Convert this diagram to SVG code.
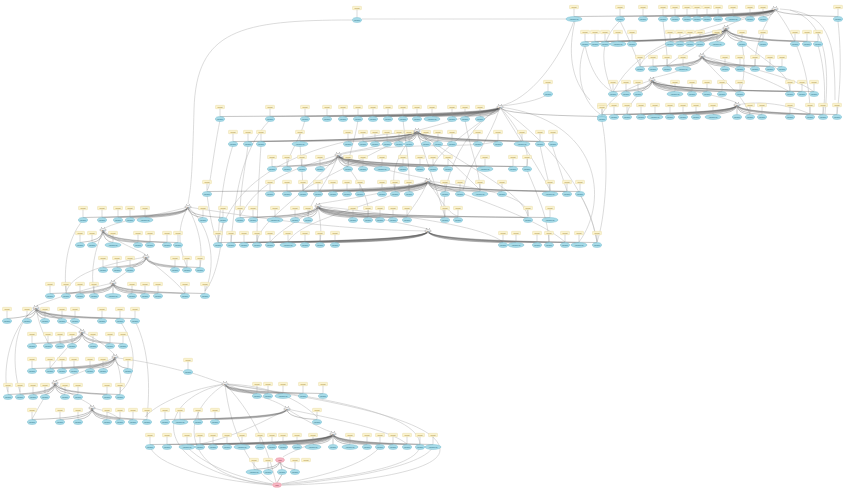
<svg xmlns="http://www.w3.org/2000/svg" xmlns:xlink="http://www.w3.org/1999/xlink" width="843" height="488" viewBox="0 0 843 488">
<style>
.e{fill:none;stroke:#555;stroke-width:.45;stroke-opacity:.75}
.l{fill:none;stroke:#b8b8b8;stroke-width:.5}
.k{fill:#fbf3cf;stroke:#e2d08c;stroke-width:.3}
.kt{font-family:"Liberation Sans",Arial,sans-serif;font-size:1.9px;fill:#977519;text-anchor:middle}
.v{fill:#a7dbe8;stroke:#5daec5;stroke-width:.35}
.vt{font-family:"Liberation Sans",Arial,sans-serif;font-size:1.8px;fill:#23667c;text-anchor:middle}
.s{stroke:#9a9a9a;stroke-width:.35}
.pk{fill:#f6b6c3;stroke:#df7489;stroke-width:.35}
.pt{font-family:"Liberation Sans",Arial,sans-serif;font-size:1.8px;fill:#8a2a3c;text-anchor:middle}
.h{fill:#f6f6f6;stroke:#666;stroke-width:.35}
.ht{font-family:"Liberation Sans",Arial,sans-serif;font-size:1.6px;fill:#333;text-anchor:middle}
.d{fill:#555}
</style>
<defs>
<!-- constant label feeding a variable op -->
<g id="p"><rect class="k" x="-4.5" y="-1.7" width="9" height="3.4" rx=".6"/><text class="kt" y=".7">Const</text><line class="s" x1="0" y1="1.7" x2="0" y2="9.5"/><ellipse class="v" cy="12" rx="4.6" ry="2.5"/><text class="vt" y="12.65">Variable</text></g>
<g id="w"><rect class="k" x="-4.5" y="-1.7" width="9" height="3.4" rx=".6"/><text class="kt" y=".7">Const</text><line class="s" x1="0" y1="1.7" x2="0" y2="9.5"/><ellipse class="v" cy="12" rx="8" ry="2.5"/><text class="vt" y="12.65">VariableV2</text></g>
<g id="b"><ellipse class="v" cy="12" rx="4.6" ry="2.5"/><text class="vt" y="12.65">Variable</text></g>
<g id="bw"><ellipse class="v" cy="12" rx="8" ry="2.5"/><text class="vt" y="12.65">VariableV2</text></g>
<g id="k"><rect class="k" x="-4.5" y="-1.7" width="9" height="3.4" rx=".6"/><text class="kt" y=".7">Const</text></g>
<g id="hub"><ellipse class="h" rx="3.2" ry="1.4"/><text class="ht" y=".55">add</text><circle class="d" cx="-1.4" cy="-2.7" r=".35"/><circle class="d" cx="1.4" cy="-2.7" r=".35"/><circle class="d" cx="0" cy="2.6" r=".3"/></g>
<g id="pkh"><ellipse class="pk" rx="4.4" ry="2.3"/><text class="pt" y=".6">loss</text></g>
</defs>

<!-- long-range links between the groups -->
<g id="links">
<path class="l" d="M352,20C240,20 196,30 194,110S190,190 188,204M362,19C450,19 520,19 566,19M775,9C760,15 735,20 726,27M726,28C720,40 708,48 702,54M702,56C690,70 665,75 652,78M652,80C680,90 720,95 737,103M575,21C568,50 570,80 590,100M585,45C575,70 580,100 600,114M620,21C600,40 600,60 612,92M780,9C830,12 835,40 835,100M790,10C825,20 830,60 825,114M838,21C842,60 840,90 837,114M726,28C760,60 790,70 790,92M702,56C720,80 740,90 750,114M652,80C640,95 630,100 627,114M775,9C800,40 810,80 810,114M726,28C680,40 645,50 640,66M775,9C700,30 640,40 613,92M702,56C760,70 800,80 814,92M726,28C700,45 680,55 667,66M702,56C740,70 770,80 790,92M652,80C620,90 610,100 602,114M737,105C760,100 790,105 810,114M775,9C760,30 755,50 755,66M620,21C630,40 635,55 640,66M663,21C665,40 668,55 667,66M742,44C745,60 745,80 740,92M585,45C590,70 600,85 613,92M818,45C825,70 826,95 823,114"/>
<path class="l" d="M574,21C560,60 530,100 500,106M548,94C540,100 520,104 502,106M417,131C380,150 350,150 340,154M338,155C380,170 410,175 428,179M428,181C380,195 340,200 318,204M318,206C360,215 410,225 428,229M500,107C470,115 440,125 419,130M500,107C560,150 590,200 597,242M417,131C300,140 230,180 218,242M500,107C450,140 440,200 445,217M417,131C470,170 520,190 528,216M338,155C300,200 260,220 257,242M428,181C480,200 540,220 565,242M428,181C360,210 300,220 288,242M500,107C600,120 610,200 579,242M220,120C212,160 210,190 207,190M270,120C240,150 235,200 231,242M602,121C610,160 605,220 597,242M338,155C400,140 470,150 498,141M417,131C450,160 470,180 480,190M500,107C520,140 540,170 550,190"/>
<path class="l" d="M500,107C490,140 470,160 463,190M500,107C520,130 530,150 527,166M500,107C470,130 440,150 433,166M417,131C400,150 390,170 395,190M417,131C360,160 320,180 303,190M417,131C430,170 440,200 445,217M338,155C330,180 310,200 308,216M338,155C360,180 370,200 368,216M338,155C290,170 260,180 240,216M428,181C440,200 450,215 458,216M428,181C420,200 410,210 407,216M428,181C500,190 530,200 528,216M318,206C300,220 280,230 270,242M318,206C320,220 322,230 320,242M318,206C400,215 480,225 503,242M305,120C300,140 290,150 287,166M358,120C355,140 350,150 348,166M403,120C405,140 410,160 409,191M465,120C470,150 480,170 480,191M248,145C245,170 240,190 240,216M300,145C302,170 303,185 303,191M552,145C560,170 565,185 567,191M540,145C545,170 550,185 550,191M233,145C225,170 220,200 218,242M261,145C258,190 257,220 257,242M527,170C540,200 548,220 549,242M580,195C590,210 595,230 597,242M207,195C210,215 212,230 218,242"/>
<path class="l" d="M188,207C160,215 120,220 105,228M103,230C120,245 140,250 146,255M146,257C130,270 118,278 113,281M113,283C80,290 50,300 36,306M36,308C60,320 75,325 82,330M82,332C100,340 110,350 115,355M115,357C90,370 65,378 55,381M55,383C70,395 85,400 92,406M188,207C215,230 215,270 205,291M83,220C66,240 64,270 66,291M223,220C222,250 215,280 205,291M36,308C5,330 3,380 8,392M135,321C150,350 150,390 147,417M36,308C15,320 10,360 20,392M120,321C140,350 135,380 120,392M188,207C240,215 330,230 428,231M118,358C150,362 170,368 183,371M192,373C205,377 215,381 222,383M188,207C175,230 180,250 187,267M188,207C200,230 203,250 200,267M103,230C95,250 90,270 94,293M146,257C160,270 175,280 185,293M146,257C100,265 70,275 66,293M36,308C40,330 45,335 48,343M82,332C70,345 60,355 50,368M115,357C120,370 122,380 120,394M55,383C45,395 40,405 32,419M92,408C105,410 115,415 120,419"/>
<path class="l" d="M225,384C255,395 275,400 285,407M287,409C305,420 320,428 331,432M333,434C310,445 290,452 283,457M225,384C150,400 150,470 272,485M225,384C170,420 190,480 272,484M225,384C230,430 250,470 274,483M225,384C330,400 440,420 440,450C440,475 330,485 282,485M225,384C300,395 420,410 420,445C420,470 320,480 282,484M225,384C260,420 270,460 276,482M150,447C160,470 230,482 272,485M433,447C420,470 320,482 282,485M187,447C210,470 250,480 273,484M380,447C360,470 300,480 281,484M225,384C270,385 300,400 317,417M225,384C180,390 150,410 145,417M287,409C250,430 220,440 200,444M287,409C340,420 390,430 407,444"/>
</g>

<!-- hub to operand edges, one path per row -->
<g id="edges">
<path class="e" d="M775,9Q775,15 574,16.5M775,9Q775,15 620,16.5M775,9Q775,15 643,16.5M775,9Q775,15 663,16.5M775,9Q775,15 675,16.5M775,9Q775,15 687,16.5M775,9Q775,15 697,16.5M775,9Q775,15 707,16.5M775,9Q775,15 718,16.5M775,9Q775,15 733,16.5M775,9Q775,15 750,16.5M775,9Q775,15 763,16.5M775,9Q775,15 838,16.5"/>
<path class="e" d="M726,28Q726,40 585,41.5M726,28Q726,40 595,41.5M726,28Q726,40 605,41.5M726,28Q726,40 618,41.5M726,28Q726,40 632,41.5M726,28Q726,40 670,41.5M726,28Q726,40 680,41.5M726,28Q726,40 690,41.5M726,28Q726,40 700,41.5M726,28Q726,40 717,41.5M726,28Q726,40 742,41.5M726,28Q726,40 763,41.5M726,28Q726,40 795,41.5M726,28Q726,40 807,41.5M726,28Q726,40 818,41.5"/>
<path class="e" d="M702,56Q702,65 640,66.5M702,56Q702,65 653,66.5M702,56Q702,65 667,66.5M702,56Q702,65 683,66.5M702,56Q702,65 725,66.5M702,56Q702,65 740,66.5M702,56Q702,65 755,66.5M702,56Q702,65 770,66.5M702,56Q702,65 782,66.5"/>
<path class="e" d="M652,80Q652,90 613,91.5M652,80Q652,90 626,91.5M652,80Q652,90 638,91.5M652,80Q652,90 675,91.5M652,80Q652,90 692,91.5M652,80Q652,90 707,91.5M652,80Q652,90 722,91.5M652,80Q652,90 740,91.5M652,80Q652,90 790,91.5M652,80Q652,90 802,91.5M652,80Q652,90 814,91.5"/>
<path class="e" d="M737,105Q737,113 602,114.5M737,105Q737,113 614,114.5M737,105Q737,113 627,114.5M737,105Q737,113 641,114.5M737,105Q737,113 655,114.5M737,105Q737,113 670,114.5M737,105Q737,113 683,114.5M737,105Q737,113 696,114.5M737,105Q737,113 713,114.5M737,105L737,114.5M737,105Q737,113 750,114.5M737,105Q737,113 762,114.5M737,105Q737,113 790,114.5M737,105Q737,113 810,114.5M737,105Q737,113 823,114.5M737,105Q737,113 837,114.5"/>
<path class="e" d="M500,107Q500,115 220,116.5M500,107Q500,115 270,116.5M500,107Q500,115 305,116.5M500,107Q500,115 327,116.5M500,107Q500,115 343,116.5M500,107Q500,115 358,116.5M500,107Q500,115 373,116.5M500,107Q500,115 388,116.5M500,107Q500,115 403,116.5M500,107Q500,115 417,116.5M500,107Q500,115 432,116.5M500,107Q500,115 452,116.5M500,107Q500,115 465,116.5M500,107Q500,115 480,116.5M500,107Q500,115 602,116.5"/>
<path class="e" d="M417,131Q417,140 233,141.5M417,131Q417,140 248,141.5M417,131Q417,140 261,141.5M417,131Q417,140 300,141.5M417,131Q417,140 348,141.5M417,131Q417,140 363,141.5M417,131Q417,140 375,141.5M417,131Q417,140 387,141.5M417,131Q417,140 399,141.5M417,131Q417,140 409,141.5M417,131Q417,140 426,141.5M417,131Q417,140 438,141.5M417,131Q417,140 452,141.5M417,131Q417,140 478,141.5M417,131Q417,140 498,141.5M417,131Q417,140 522,141.5M417,131Q417,140 540,141.5M417,131Q417,140 553,141.5"/>
<path class="e" d="M338,155Q338,165 272,166.5M338,155Q338,165 287,166.5M338,155Q338,165 302,166.5M338,155Q338,165 320,166.5M338,155Q338,165 348,166.5M338,155Q338,165 363,166.5M338,155Q338,165 382,166.5M338,155Q338,165 403,166.5M338,155Q338,165 420,166.5M338,155Q338,165 433,166.5M338,155Q338,165 448,166.5M338,155Q338,165 485,166.5M338,155Q338,165 513,166.5M338,155Q338,165 527,166.5"/>
<path class="e" d="M428,181Q428,190 207,191.5M428,181Q428,190 270,191.5M428,181Q428,190 287,191.5M428,181Q428,190 303,191.5M428,181Q428,190 318,191.5M428,181Q428,190 333,191.5M428,181Q428,190 347,191.5M428,181Q428,190 360,191.5M428,181Q428,190 382,191.5M428,181Q428,190 395,191.5M428,181Q428,190 409,191.5M428,181Q428,190 445,191.5M428,181Q428,190 460,191.5M428,181Q428,190 480,191.5M428,181Q428,190 502,191.5M428,181Q428,190 550,191.5M428,181Q428,190 567,191.5M428,181Q428,190 580,191.5"/>
<path class="e" d="M188,207Q188,216 83,217.5M188,207Q188,216 102,217.5M188,207Q188,216 118,217.5M188,207Q188,216 130,217.5M188,207Q188,216 145,217.5M188,207Q188,216 203,217.5M188,207Q188,216 223,217.5"/>
<path class="e" d="M318,206Q318,216 240,217.5M318,206Q318,216 253,217.5M318,206Q318,216 275,217.5M318,206Q318,216 295,217.5M318,206Q318,216 308,217.5M318,206Q318,216 353,217.5M318,206Q318,216 368,217.5M318,206Q318,216 380,217.5M318,206Q318,216 393,217.5M318,206Q318,216 407,217.5M318,206Q318,216 445,217.5M318,206Q318,216 458,217.5M318,206Q318,216 528,217.5M318,206Q318,216 550,217.5"/>
<path class="e" d="M103,230Q103,241 80,242.5M103,230Q103,241 92,242.5M103,230Q103,241 113,242.5M103,230Q103,241 138,242.5M103,230Q103,241 150,242.5M103,230Q103,241 167,242.5M103,230Q103,241 178,242.5"/>
<path class="e" d="M428,231Q428,241 218,242.5M428,231Q428,241 231,242.5M428,231Q428,241 244,242.5M428,231Q428,241 257,242.5M428,231Q428,241 270,242.5M428,231Q428,241 288,242.5M428,231Q428,241 305,242.5M428,231Q428,241 320,242.5M428,231Q428,241 335,242.5M428,231Q428,241 503,242.5M428,231Q428,241 516,242.5M428,231Q428,241 537,242.5M428,231Q428,241 549,242.5M428,231Q428,241 565,242.5M428,231Q428,241 579,242.5M428,231Q428,241 597,242.5"/>
<path class="e" d="M146,257Q146,266 103,267.5M146,257Q146,266 117,267.5M146,257Q146,266 130,267.5M146,257Q146,266 175,267.5M146,257Q146,266 187,267.5M146,257Q146,266 200,267.5"/>
<path class="e" d="M113,283Q113,292 50,293.5M113,283Q113,292 66,293.5M113,283Q113,292 80,293.5M113,283Q113,292 94,293.5M113,283L113,293.5M113,283Q113,292 132,293.5M113,283Q113,292 145,293.5M113,283Q113,292 158,293.5M113,283Q113,292 185,293.5M113,283Q113,292 205,293.5"/>
<path class="e" d="M36,308Q36,317 7,318.5M36,308Q36,317 27,318.5M36,308Q36,317 45,318.5M36,308Q36,317 62,318.5M36,308Q36,317 75,318.5M36,308Q36,317 102,318.5M36,308Q36,317 120,318.5M36,308Q36,317 135,318.5"/>
<path class="e" d="M82,332Q82,342 32,343.5M82,332Q82,342 48,343.5M82,332Q82,342 60,343.5M82,332Q82,342 72,343.5M82,332Q82,342 93,343.5M82,332Q82,342 110,343.5M82,332Q82,342 123,343.5"/>
<path class="e" d="M115,357Q115,367 32,368.5M115,357Q115,367 50,368.5M115,357Q115,367 62,368.5M115,357Q115,367 74,368.5M115,357Q115,367 90,368.5M115,357Q115,367 103,368.5M115,357Q115,367 128,368.5"/>
<path class="e" d="M55,383Q55,393 8,394.5M55,383Q55,393 20,394.5M55,383Q55,393 33,394.5M55,383Q55,393 45,394.5M55,383Q55,393 65,394.5M55,383Q55,393 78,394.5M55,383Q55,393 107,394.5M55,383Q55,393 120,394.5"/>
<path class="e" d="M92,408Q92,418 32,419.5M92,408Q92,418 60,419.5M92,408Q92,418 78,419.5M92,408Q92,418 107,419.5M92,408Q92,418 120,419.5M92,408Q92,418 133,419.5M92,408Q92,418 147,419.5"/>
<path class="e" d="M287,409Q287,418 165,419.5M287,409Q287,418 180,419.5M287,409Q287,418 198,419.5M287,409Q287,418 215,419.5M287,409Q287,418 317,419.5"/>
<path class="e" d="M225,384Q225,392 257,393.5M225,384Q225,392 268,393.5M225,384Q225,392 283,393.5M225,384Q225,392 303,393.5M225,384Q225,392 323,393.5"/>
<path class="e" d="M333,434Q333,443 150,444.5M333,434Q333,443 167,444.5M333,434Q333,443 187,444.5M333,434Q333,443 200,444.5M333,434Q333,443 213,444.5M333,434Q333,443 227,444.5M333,434Q333,443 242,444.5M333,434Q333,443 260,444.5M333,434Q333,443 272,444.5M333,434Q333,443 283,444.5M333,434Q333,443 297,444.5M333,434Q333,443 313,444.5M333,434L333,444.5M333,434Q333,443 350,444.5M333,434Q333,443 367,444.5M333,434Q333,443 380,444.5M333,434Q333,443 393,444.5M333,434Q333,443 407,444.5M333,434Q333,443 420,444.5M333,434Q333,443 433,444.5"/>
<path class="e" d="M280,460Q280,468 254,469.5M280,460Q280,468 268,469.5M280,462L282,469.5M280,460Q280,468 295,469.5M282,474.5L277,482.7"/>
</g>

<!-- lone nodes -->
<g id="n_top"><use xlink:href="#p" x="357" y="8"/></g>
<g id="n_side"><use xlink:href="#p" x="548" y="82"/></g>
<g id="n_mid"><use xlink:href="#p" x="188" y="360"/></g>
<g id="n_k"><use xlink:href="#k" x="306" y="460"/></g>

<!-- hubs -->
<g id="h_a"><use xlink:href="#hub" x="775" y="9"/></g>
<g id="h_b"><use xlink:href="#hub" x="726" y="28"/></g>
<g id="h_c"><use xlink:href="#hub" x="702" y="56"/></g>
<g id="h_d"><use xlink:href="#hub" x="652" y="80"/></g>
<g id="h_e"><use xlink:href="#hub" x="737" y="105"/></g>
<g id="h_m1"><use xlink:href="#hub" x="500" y="107"/></g>
<g id="h_m2"><use xlink:href="#hub" x="417" y="131"/></g>
<g id="h_m3"><use xlink:href="#hub" x="338" y="155"/></g>
<g id="h_m4"><use xlink:href="#hub" x="428" y="181"/></g>
<g id="h_l1"><use xlink:href="#hub" x="188" y="207"/></g>
<g id="h_m5"><use xlink:href="#hub" x="318" y="206"/></g>
<g id="h_l2"><use xlink:href="#hub" x="103" y="230"/></g>
<g id="h_m6"><use xlink:href="#hub" x="428" y="231"/></g>
<g id="h_l3"><use xlink:href="#hub" x="146" y="257"/></g>
<g id="h_l4"><use xlink:href="#hub" x="113" y="283"/></g>
<g id="h_ll1"><use xlink:href="#hub" x="36" y="308"/></g>
<g id="h_ll2"><use xlink:href="#hub" x="82" y="332"/></g>
<g id="h_ll3"><use xlink:href="#hub" x="115" y="357"/></g>
<g id="h_ll4"><use xlink:href="#hub" x="55" y="383"/></g>
<g id="h_ll5"><use xlink:href="#hub" x="92" y="408"/></g>
<g id="h_b1"><use xlink:href="#hub" x="225" y="384"/></g>
<g id="h_b2"><use xlink:href="#hub" x="287" y="409"/></g>
<g id="h_b3"><use xlink:href="#hub" x="333" y="434"/></g>
<g id="h_b4"><use xlink:href="#pkh" x="280" y="460"/></g>
<g id="h_out"><use xlink:href="#pkh" x="277" y="485"/></g>

<!-- row a -->
<g id="a1"><use xlink:href="#w" x="574" y="7"/></g><g id="a2"><use xlink:href="#p" x="620" y="7"/></g><g id="a3"><use xlink:href="#p" x="643" y="7"/></g><g id="a4"><use xlink:href="#p" x="663" y="7"/></g><g id="a5"><use xlink:href="#p" x="675" y="7"/></g><g id="a6"><use xlink:href="#p" x="687" y="7"/></g><g id="a7"><use xlink:href="#p" x="697" y="7"/></g><g id="a8"><use xlink:href="#p" x="707" y="7"/></g><g id="a9"><use xlink:href="#p" x="718" y="7"/></g><g id="a10"><use xlink:href="#w" x="733" y="7"/></g><g id="a11"><use xlink:href="#p" x="750" y="7"/></g><g id="a12"><use xlink:href="#p" x="763" y="7"/></g><g id="a13"><use xlink:href="#p" x="838" y="7"/></g>
<!-- row b -->
<g id="b1"><use xlink:href="#p" x="585" y="32"/></g><g id="b2"><use xlink:href="#p" x="595" y="32"/></g><g id="b3"><use xlink:href="#p" x="605" y="32"/></g><g id="b4"><use xlink:href="#w" x="618" y="32"/></g><g id="b5"><use xlink:href="#p" x="632" y="32"/></g><g id="b6"><use xlink:href="#p" x="670" y="32"/></g><g id="b7"><use xlink:href="#p" x="680" y="32"/></g><g id="b8"><use xlink:href="#p" x="690" y="32"/></g><g id="b9"><use xlink:href="#p" x="700" y="32"/></g><g id="b10"><use xlink:href="#w" x="717" y="32"/></g><g id="b11"><use xlink:href="#p" x="742" y="32"/></g><g id="b12"><use xlink:href="#p" x="763" y="32"/></g><g id="b13"><use xlink:href="#p" x="795" y="32"/></g><g id="b14"><use xlink:href="#p" x="807" y="32"/></g><g id="b15"><use xlink:href="#p" x="818" y="32"/></g>
<!-- row c -->
<g id="c1"><use xlink:href="#p" x="640" y="57"/></g><g id="c2"><use xlink:href="#p" x="653" y="57"/></g><g id="c3"><use xlink:href="#p" x="667" y="57"/></g><g id="c4"><use xlink:href="#w" x="683" y="57"/></g><g id="c5"><use xlink:href="#p" x="725" y="57"/></g><g id="c6"><use xlink:href="#p" x="740" y="57"/></g><g id="c7"><use xlink:href="#p" x="755" y="57"/></g><g id="c8"><use xlink:href="#p" x="770" y="57"/></g><g id="c9"><use xlink:href="#p" x="782" y="57"/></g>
<!-- row d -->
<g id="d1"><use xlink:href="#p" x="613" y="82"/></g><g id="d2"><use xlink:href="#p" x="626" y="82"/></g><g id="d3"><use xlink:href="#p" x="638" y="82"/></g><g id="d4"><use xlink:href="#w" x="675" y="82"/></g><g id="d5"><use xlink:href="#p" x="692" y="82"/></g><g id="d6"><use xlink:href="#p" x="707" y="82"/></g><g id="d7"><use xlink:href="#p" x="722" y="82"/></g><g id="d8"><use xlink:href="#p" x="740" y="82"/></g><g id="d9"><use xlink:href="#p" x="790" y="82"/></g><g id="d10"><use xlink:href="#p" x="802" y="82"/></g><g id="d11"><use xlink:href="#p" x="814" y="82"/></g>
<!-- row e -->
<g id="e1"><use xlink:href="#p" x="602" y="105"/></g><g id="e2"><use xlink:href="#p" x="614" y="105"/></g><g id="e3"><use xlink:href="#p" x="627" y="105"/></g><g id="e4"><use xlink:href="#p" x="641" y="105"/></g><g id="e5"><use xlink:href="#w" x="655" y="105"/></g><g id="e6"><use xlink:href="#p" x="670" y="105"/></g><g id="e7"><use xlink:href="#p" x="683" y="105"/></g><g id="e8"><use xlink:href="#p" x="696" y="105"/></g><g id="e9"><use xlink:href="#w" x="713" y="105"/></g><g id="e10"><use xlink:href="#b" x="737" y="105"/></g><g id="e11"><use xlink:href="#p" x="750" y="105"/></g><g id="e12"><use xlink:href="#p" x="762" y="105"/></g><g id="e13"><use xlink:href="#p" x="790" y="105"/></g><g id="e14"><use xlink:href="#p" x="810" y="105"/></g><g id="e15"><use xlink:href="#p" x="823" y="105"/></g><g id="e16"><use xlink:href="#p" x="837" y="105"/></g>
<!-- row m1 -->
<g id="m1_1"><use xlink:href="#p" x="220" y="107"/></g><g id="m1_2"><use xlink:href="#p" x="270" y="107"/></g><g id="m1_3"><use xlink:href="#p" x="305" y="107"/></g><g id="m1_4"><use xlink:href="#p" x="327" y="107"/></g><g id="m1_5"><use xlink:href="#p" x="343" y="107"/></g><g id="m1_6"><use xlink:href="#p" x="358" y="107"/></g><g id="m1_7"><use xlink:href="#p" x="373" y="107"/></g><g id="m1_8"><use xlink:href="#p" x="388" y="107"/></g><g id="m1_9"><use xlink:href="#p" x="403" y="107"/></g><g id="m1_10"><use xlink:href="#p" x="417" y="107"/></g><g id="m1_11"><use xlink:href="#w" x="432" y="107"/></g><g id="m1_12"><use xlink:href="#p" x="452" y="107"/></g><g id="m1_13"><use xlink:href="#p" x="465" y="107"/></g><g id="m1_14"><use xlink:href="#p" x="480" y="107"/></g><g id="m1_15"><use xlink:href="#p" x="602" y="107"/></g>
<!-- row m2 -->
<g id="m2_1"><use xlink:href="#p" x="233" y="132"/></g><g id="m2_2"><use xlink:href="#p" x="248" y="132"/></g><g id="m2_3"><use xlink:href="#p" x="261" y="132"/></g><g id="m2_4"><use xlink:href="#w" x="300" y="132"/></g><g id="m2_5"><use xlink:href="#p" x="348" y="132"/></g><g id="m2_6"><use xlink:href="#p" x="363" y="132"/></g><g id="m2_7"><use xlink:href="#p" x="375" y="132"/></g><g id="m2_8"><use xlink:href="#p" x="387" y="132"/></g><g id="m2_9"><use xlink:href="#p" x="399" y="132"/></g><g id="m2_10"><use xlink:href="#p" x="409" y="132"/></g><g id="m2_11"><use xlink:href="#p" x="426" y="132"/></g><g id="m2_12"><use xlink:href="#p" x="438" y="132"/></g><g id="m2_13"><use xlink:href="#p" x="452" y="132"/></g><g id="m2_14"><use xlink:href="#p" x="478" y="132"/></g><g id="m2_15"><use xlink:href="#p" x="498" y="132"/></g><g id="m2_16"><use xlink:href="#w" x="522" y="132"/></g><g id="m2_17"><use xlink:href="#p" x="540" y="132"/></g><g id="m2_18"><use xlink:href="#p" x="553" y="132"/></g>
<!-- row m3 -->
<g id="m3_1"><use xlink:href="#p" x="272" y="157"/></g><g id="m3_2"><use xlink:href="#p" x="287" y="157"/></g><g id="m3_3"><use xlink:href="#p" x="302" y="157"/></g><g id="m3_4"><use xlink:href="#p" x="320" y="157"/></g><g id="m3_5"><use xlink:href="#p" x="348" y="157"/></g><g id="m3_6"><use xlink:href="#p" x="363" y="157"/></g><g id="m3_7"><use xlink:href="#w" x="382" y="157"/></g><g id="m3_8"><use xlink:href="#p" x="403" y="157"/></g><g id="m3_9"><use xlink:href="#p" x="420" y="157"/></g><g id="m3_10"><use xlink:href="#p" x="433" y="157"/></g><g id="m3_11"><use xlink:href="#p" x="448" y="157"/></g><g id="m3_12"><use xlink:href="#w" x="485" y="157"/></g><g id="m3_13"><use xlink:href="#p" x="513" y="157"/></g><g id="m3_14"><use xlink:href="#p" x="527" y="157"/></g>
<!-- row m4 -->
<g id="m4_1"><use xlink:href="#p" x="207" y="182"/></g><g id="m4_2"><use xlink:href="#p" x="270" y="182"/></g><g id="m4_3"><use xlink:href="#p" x="287" y="182"/></g><g id="m4_4"><use xlink:href="#p" x="303" y="182"/></g><g id="m4_5"><use xlink:href="#p" x="318" y="182"/></g><g id="m4_6"><use xlink:href="#p" x="333" y="182"/></g><g id="m4_7"><use xlink:href="#p" x="347" y="182"/></g><g id="m4_8"><use xlink:href="#p" x="360" y="182"/></g><g id="m4_9"><use xlink:href="#p" x="382" y="182"/></g><g id="m4_10"><use xlink:href="#p" x="395" y="182"/></g><g id="m4_11"><use xlink:href="#p" x="409" y="182"/></g><g id="m4_12"><use xlink:href="#p" x="445" y="182"/></g><g id="m4_13"><use xlink:href="#p" x="460" y="182"/></g><g id="m4_14"><use xlink:href="#w" x="480" y="182"/></g><g id="m4_15"><use xlink:href="#p" x="502" y="182"/></g><g id="m4_16"><use xlink:href="#w" x="550" y="182"/></g><g id="m4_17"><use xlink:href="#p" x="567" y="182"/></g><g id="m4_18"><use xlink:href="#p" x="580" y="182"/></g>
<!-- row l1 / m5 -->
<g id="l1_1"><use xlink:href="#p" x="83" y="208"/></g><g id="l1_2"><use xlink:href="#p" x="102" y="208"/></g><g id="l1_3"><use xlink:href="#p" x="118" y="208"/></g><g id="l1_4"><use xlink:href="#p" x="130" y="208"/></g><g id="l1_5"><use xlink:href="#w" x="145" y="208"/></g><g id="l1_6"><use xlink:href="#p" x="203" y="208"/></g><g id="l1_7"><use xlink:href="#p" x="223" y="208"/></g>
<g id="m5_1"><use xlink:href="#p" x="240" y="208"/></g><g id="m5_2"><use xlink:href="#p" x="253" y="208"/></g><g id="m5_3"><use xlink:href="#w" x="275" y="208"/></g><g id="m5_4"><use xlink:href="#p" x="295" y="208"/></g><g id="m5_5"><use xlink:href="#p" x="308" y="208"/></g><g id="m5_6"><use xlink:href="#p" x="353" y="208"/></g><g id="m5_7"><use xlink:href="#p" x="368" y="208"/></g><g id="m5_8"><use xlink:href="#p" x="380" y="208"/></g><g id="m5_9"><use xlink:href="#p" x="393" y="208"/></g><g id="m5_10"><use xlink:href="#p" x="407" y="208"/></g><g id="m5_11"><use xlink:href="#p" x="445" y="208"/></g><g id="m5_12"><use xlink:href="#p" x="458" y="208"/></g><g id="m5_13"><use xlink:href="#p" x="528" y="208"/></g><g id="m5_14"><use xlink:href="#w" x="550" y="208"/></g>
<!-- row l2 / m6 -->
<g id="l2_1"><use xlink:href="#p" x="80" y="233"/></g><g id="l2_2"><use xlink:href="#p" x="92" y="233"/></g><g id="l2_3"><use xlink:href="#w" x="113" y="233"/></g><g id="l2_4"><use xlink:href="#p" x="138" y="233"/></g><g id="l2_5"><use xlink:href="#p" x="150" y="233"/></g><g id="l2_6"><use xlink:href="#p" x="167" y="233"/></g><g id="l2_7"><use xlink:href="#p" x="178" y="233"/></g>
<g id="m6_1"><use xlink:href="#p" x="218" y="233"/></g><g id="m6_2"><use xlink:href="#p" x="231" y="233"/></g><g id="m6_3"><use xlink:href="#p" x="244" y="233"/></g><g id="m6_4"><use xlink:href="#p" x="257" y="233"/></g><g id="m6_5"><use xlink:href="#p" x="270" y="233"/></g><g id="m6_6"><use xlink:href="#w" x="288" y="233"/></g><g id="m6_7"><use xlink:href="#p" x="305" y="233"/></g><g id="m6_8"><use xlink:href="#p" x="320" y="233"/></g><g id="m6_9"><use xlink:href="#p" x="335" y="233"/></g><g id="m6_10"><use xlink:href="#p" x="503" y="233"/></g><g id="m6_11"><use xlink:href="#w" x="516" y="233"/></g><g id="m6_12"><use xlink:href="#p" x="537" y="233"/></g><g id="m6_13"><use xlink:href="#p" x="549" y="233"/></g><g id="m6_14"><use xlink:href="#p" x="565" y="233"/></g><g id="m6_15"><use xlink:href="#w" x="579" y="233"/></g><g id="m6_16"><use xlink:href="#p" x="597" y="233"/></g>
<!-- row l3 -->
<g id="l3_1"><use xlink:href="#p" x="103" y="258"/></g><g id="l3_2"><use xlink:href="#p" x="117" y="258"/></g><g id="l3_3"><use xlink:href="#p" x="130" y="258"/></g><g id="l3_4"><use xlink:href="#p" x="175" y="258"/></g><g id="l3_5"><use xlink:href="#p" x="187" y="258"/></g><g id="l3_6"><use xlink:href="#p" x="200" y="258"/></g>
<!-- row l4 -->
<g id="l4_1"><use xlink:href="#p" x="50" y="284"/></g><g id="l4_2"><use xlink:href="#p" x="66" y="284"/></g><g id="l4_3"><use xlink:href="#p" x="80" y="284"/></g><g id="l4_4"><use xlink:href="#p" x="94" y="284"/></g><g id="l4_5"><use xlink:href="#bw" x="113" y="284"/></g><g id="l4_6"><use xlink:href="#p" x="132" y="284"/></g><g id="l4_7"><use xlink:href="#p" x="145" y="284"/></g><g id="l4_8"><use xlink:href="#p" x="158" y="284"/></g><g id="l4_9"><use xlink:href="#p" x="185" y="284"/></g><g id="l4_10"><use xlink:href="#p" x="205" y="284"/></g>
<!-- row ll1 -->
<g id="ll1_1"><use xlink:href="#p" x="7" y="309"/></g><g id="ll1_2"><use xlink:href="#p" x="27" y="309"/></g><g id="ll1_3"><use xlink:href="#p" x="45" y="309"/></g><g id="ll1_4"><use xlink:href="#p" x="62" y="309"/></g><g id="ll1_5"><use xlink:href="#p" x="75" y="309"/></g><g id="ll1_6"><use xlink:href="#p" x="102" y="309"/></g><g id="ll1_7"><use xlink:href="#p" x="120" y="309"/></g><g id="ll1_8"><use xlink:href="#p" x="135" y="309"/></g>
<!-- row ll2 -->
<g id="ll2_1"><use xlink:href="#p" x="32" y="334"/></g><g id="ll2_2"><use xlink:href="#p" x="48" y="334"/></g><g id="ll2_3"><use xlink:href="#p" x="60" y="334"/></g><g id="ll2_4"><use xlink:href="#p" x="72" y="334"/></g><g id="ll2_5"><use xlink:href="#p" x="93" y="334"/></g><g id="ll2_6"><use xlink:href="#p" x="110" y="334"/></g><g id="ll2_7"><use xlink:href="#p" x="123" y="334"/></g>
<!-- row ll3 -->
<g id="ll3_1"><use xlink:href="#p" x="32" y="359"/></g><g id="ll3_2"><use xlink:href="#p" x="50" y="359"/></g><g id="ll3_3"><use xlink:href="#p" x="62" y="359"/></g><g id="ll3_4"><use xlink:href="#p" x="74" y="359"/></g><g id="ll3_5"><use xlink:href="#p" x="90" y="359"/></g><g id="ll3_6"><use xlink:href="#p" x="103" y="359"/></g><g id="ll3_7"><use xlink:href="#p" x="128" y="359"/></g>
<!-- row ll4 -->
<g id="ll4_1"><use xlink:href="#p" x="8" y="385"/></g><g id="ll4_2"><use xlink:href="#p" x="20" y="385"/></g><g id="ll4_3"><use xlink:href="#p" x="33" y="385"/></g><g id="ll4_4"><use xlink:href="#p" x="45" y="385"/></g><g id="ll4_5"><use xlink:href="#p" x="65" y="385"/></g><g id="ll4_6"><use xlink:href="#p" x="78" y="385"/></g><g id="ll4_7"><use xlink:href="#p" x="107" y="385"/></g><g id="ll4_8"><use xlink:href="#p" x="120" y="385"/></g>
<!-- row ll5 / b2 -->
<g id="ll5_1"><use xlink:href="#p" x="32" y="410"/></g><g id="ll5_2"><use xlink:href="#p" x="60" y="410"/></g><g id="ll5_3"><use xlink:href="#p" x="78" y="410"/></g><g id="ll5_4"><use xlink:href="#p" x="107" y="410"/></g><g id="ll5_5"><use xlink:href="#p" x="120" y="410"/></g><g id="ll5_6"><use xlink:href="#p" x="133" y="410"/></g><g id="ll5_7"><use xlink:href="#p" x="147" y="410"/></g>
<g id="b2_1"><use xlink:href="#p" x="165" y="410"/></g><g id="b2_2"><use xlink:href="#w" x="180" y="410"/></g><g id="b2_3"><use xlink:href="#p" x="198" y="410"/></g><g id="b2_4"><use xlink:href="#p" x="215" y="410"/></g><g id="b2_5"><use xlink:href="#p" x="317" y="410"/></g>
<!-- row b1 -->
<g id="b1_1"><use xlink:href="#p" x="257" y="384"/></g><g id="b1_2"><use xlink:href="#p" x="268" y="384"/></g><g id="b1_3"><use xlink:href="#w" x="283" y="384"/></g><g id="b1_4"><use xlink:href="#p" x="303" y="384"/></g><g id="b1_5"><use xlink:href="#p" x="323" y="384"/></g>
<!-- row b3 -->
<g id="b3_1"><use xlink:href="#p" x="150" y="435"/></g><g id="b3_2"><use xlink:href="#p" x="167" y="435"/></g><g id="b3_3"><use xlink:href="#w" x="187" y="435"/></g><g id="b3_4"><use xlink:href="#p" x="200" y="435"/></g><g id="b3_5"><use xlink:href="#p" x="213" y="435"/></g><g id="b3_6"><use xlink:href="#p" x="227" y="435"/></g><g id="b3_7"><use xlink:href="#w" x="242" y="435"/></g><g id="b3_8"><use xlink:href="#p" x="260" y="435"/></g><g id="b3_9"><use xlink:href="#p" x="272" y="435"/></g><g id="b3_10"><use xlink:href="#p" x="283" y="435"/></g><g id="b3_11"><use xlink:href="#p" x="297" y="435"/></g><g id="b3_12"><use xlink:href="#w" x="313" y="435"/></g><g id="b3_13"><use xlink:href="#b" x="333" y="435"/></g><g id="b3_14"><use xlink:href="#w" x="350" y="435"/></g><g id="b3_15"><use xlink:href="#p" x="367" y="435"/></g><g id="b3_16"><use xlink:href="#p" x="380" y="435"/></g><g id="b3_17"><use xlink:href="#p" x="393" y="435"/></g><g id="b3_18"><use xlink:href="#p" x="407" y="435"/></g><g id="b3_19"><use xlink:href="#p" x="420" y="435"/></g><g id="b3_20"><use xlink:href="#w" x="433" y="435"/></g>
<!-- row b4 -->
<g id="b4_1"><use xlink:href="#w" x="254" y="460"/></g><g id="b4_2"><use xlink:href="#p" x="268" y="460"/></g><g id="b4_3"><use xlink:href="#b" x="282" y="460"/></g><g id="b4_4"><use xlink:href="#p" x="295" y="460"/></g>
</svg>
